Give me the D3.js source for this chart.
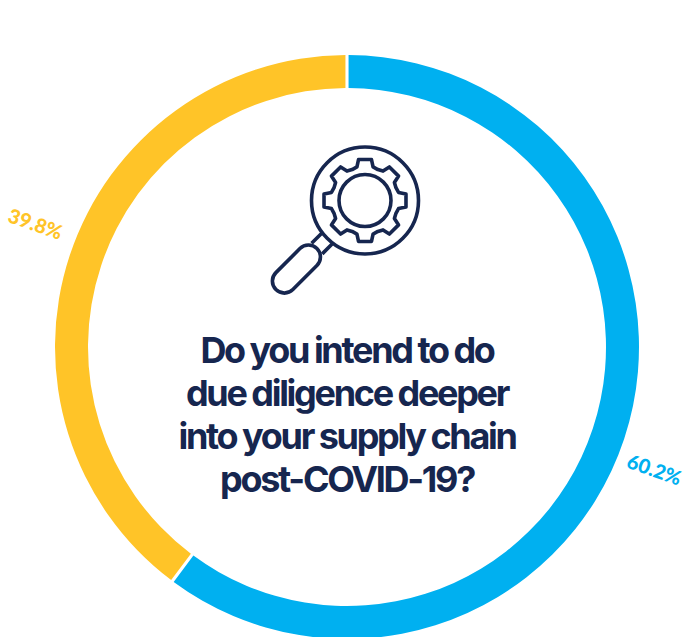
<!DOCTYPE html>
<html>
<head>
<meta charset="utf-8">
<script src="https://cdnjs.cloudflare.com/ajax/libs/d3/7.8.5/d3.min.js"></script>
<style>
  html, body { margin: 0; padding: 0; background: #fff; overflow: hidden; }
  .title { font-family: Inter, sans-serif; font-weight: 700; font-size: 36px; letter-spacing: -2.3px; word-spacing: -0.5px; fill: #16264f; text-anchor: middle; }
  .pct { font-family: Lato, sans-serif; font-weight: 900; font-size: 20px; text-anchor: middle; }
</style>
</head>
<body>
<div id="chart"></div>
<script>
var answers = ["Yes", "No"];
var shares = [60.2, 39.8];
var shareLabels = ["60.2%", "39.8%"];
var sliceColors = ["#00b0f0", "#ffc428"];
var titleLines = ["Do you intend to do", "due diligence deeper", "into your supply chain", "post-COVID-19?"];

var svgWidth = 685;
var svgHeight = 637;
var cx = 347;
var cy = 347;
var navy = "#16264f";

var svg = d3.select("#chart")
  .append("svg")
  .attr("width", svgWidth)
  .attr("height", svgHeight);

var chartGroup = svg.append("g")
  .attr("transform", `translate(${cx}, ${cy})`);

var pie = d3.pie().sort(null).value(d => d.value);
var slices = pie(answers.map((a, i) => ({ name: a, value: shares[i], label: shareLabels[i], color: sliceColors[i] })));

var arc = d3.arc().innerRadius(259).outerRadius(292).padAngle(0.008);

chartGroup.selectAll(".slice")
  .data(slices)
  .enter()
  .append("path")
  .attr("class", "slice")
  .attr("d", arc)
  .attr("fill", d => d.data.color);

// labels sit outside the ring, turned to follow it
chartGroup.selectAll(".pct")
  .data(slices)
  .enter()
  .append("text")
  .attr("class", "pct")
  .attr("fill", d => d.data.color)
  .attr("transform", (d, i) => {
    var mid = (d.startAngle + d.endAngle) / 2 + (i ? 0.055 : 0.06);
    var r = i ? 335 : 331;
    var p = d3.arc().innerRadius(r).outerRadius(r).centroid({ startAngle: mid, endAngle: mid });
    return `translate(${p[0]}, ${p[1]}) rotate(19.5)`;
  })
  .attr("dy", "0.35em")
  .text(d => d.data.label);

// title
var titleLine = d3.scalePoint().domain(titleLines).range([363, 492]);

svg.selectAll(".title")
  .data(titleLines)
  .enter()
  .append("text")
  .attr("class", "title")
  .attr("x", 347)
  .attr("y", d => titleLine(d))
  .text(d => d);

// magnifier icon
var icon = svg.append("g")
  .attr("transform", "translate(365, 200.5)")
  .attr("fill", "none")
  .attr("stroke", navy)
  .attr("stroke-width", 3.6)
  .attr("stroke-linejoin", "round");

icon.append("circle").attr("r", 53.5);
icon.append("circle").attr("r", 26);

var gearPts = [];
d3.range(8).forEach(i => {
  var a = i * Math.PI / 4;
  var w = Math.PI / 4;
  [[-0.5, 33.5], [-0.3, 34.5], [-0.2, 41.5], [0.2, 41.5], [0.3, 34.5]].forEach(s => {
    var t = a + s[0] * w;
    gearPts.push([s[1] * Math.cos(t), s[1] * Math.sin(t)]);
  });
});
icon.append("path").attr("d", d3.line().curve(d3.curveLinearClosed)(gearPts));

var handle = icon.append("g").attr("transform", "rotate(135)");
handle.append("rect")
  .attr("x", 68)
  .attr("y", -12)
  .attr("width", 58)
  .attr("height", 24)
  .attr("rx", 12);
handle.append("path").attr("d", "M53,-7.5L68,-7.5M53,7.5L68,7.5");
</script>
</body>
</html>
